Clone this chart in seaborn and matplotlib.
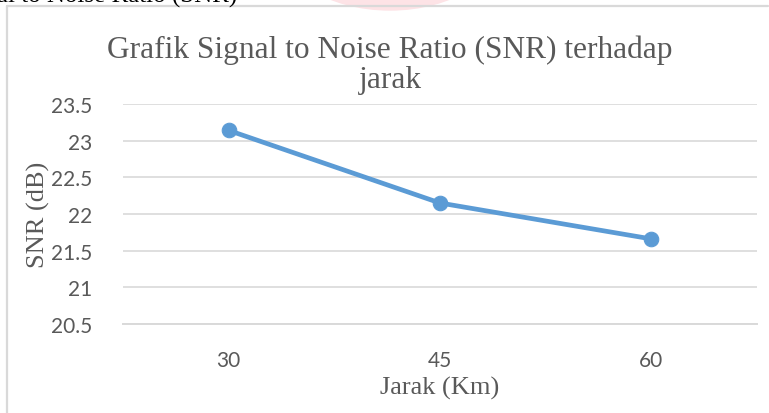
import pandas as pd
import matplotlib.pyplot as plt
import seaborn as sns
from matplotlib.patches import Ellipse
from matplotlib.lines import Line2D

# values
jarak = ["30", "45", "60"]
snr = [23.14, 22.15, 21.66]
y_ticks = [20.5, 21, 21.5, 22, 22.5, 23, 23.5]

df = pd.DataFrame({"Jarak (Km)": jarak, "SNR (dB)": snr})

sns.set_style("white")
plt.rcParams["font.family"] = ["Liberation Serif", "DejaVu Serif"]

fig = plt.figure(figsize=(7.69, 4.14), dpi=100)
W, H = 769, 414

# pale watermark and document text cut off at the top of the page
fig.patches.append(Ellipse((390 / W, 1 + 64 / H), 230 / W, 150 / H,
                           transform=fig.transFigure, color="#fde3e6",
                           zorder=0))
fig.text(-0.004, 1 - 2.5 / H, "al to Noise Ratio (SNR)", fontsize=18,
         color="black", va="baseline", ha="left")

# chart area border (left and top edge visible)
fig.add_artist(Line2D([6.5 / W, 6.5 / W], [0, 1 - 6.5 / H],
                      transform=fig.transFigure, color="#d9d9d9", lw=1.6))
fig.add_artist(Line2D([6.5 / W, 768 / W], [1 - 6.5 / H, 1 - 6.5 / H],
                      transform=fig.transFigure, color="#d9d9d9", lw=1.6))

ax = fig.add_axes([123 / W, 1 - 325 / H, (757 - 123) / W, (325 - 105) / H])

sns.lineplot(data=df, x="Jarak (Km)", y="SNR (dB)", ax=ax, color="#5b9bd5",
             linewidth=3.4, marker="o", markersize=10.5,
             markeredgecolor="#5b9bd5", sort=False, zorder=5)

ax.set_xlim(-0.5, 2.5)
ax.set_ylim(20.5, 23.5)
ax.set_yticks(y_ticks)
ax.set_yticklabels([f"{v:g}" for v in y_ticks])
ax.yaxis.grid(True, color="#d9d9d9", linewidth=1.2)
ax.xaxis.grid(False)
for s in ["top", "right", "left"]:
    ax.spines[s].set_visible(False)
ax.spines["bottom"].set_color("#d9d9d9")
ax.spines["bottom"].set_linewidth(1.4)
ax.tick_params(axis="both", length=0, labelsize=15, labelcolor="#595959")
ax.tick_params(axis="y", pad=22)
ax.tick_params(axis="x", pad=19)
for lab in ax.get_xticklabels() + ax.get_yticklabels():
    lab.set_fontfamily(["Lato", "DejaVu Sans"])

ax.set_xlabel("Jarak (Km)", fontsize=19, color="#595959", labelpad=4)
ax.set_ylabel("SNR (dB)", fontsize=19, color="#595959")
ax.yaxis.set_label_coords((50 - 123) / 634, 0.5)

fig.text(390 / W, 1 - 88 / H, "Grafik Signal to Noise Ratio (SNR) terhadap\njarak",
         ha="center", va="baseline", fontsize=22.6, color="#595959",
         linespacing=1.05, multialignment="center")

fig.savefig("out.png", dpi=100, facecolor="white")
